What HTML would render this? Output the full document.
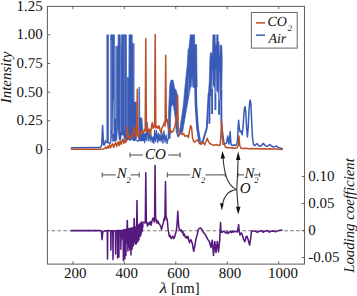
<!DOCTYPE html>
<html><head><meta charset="utf-8"><style>html,body{margin:0;padding:0;background:#fff;width:357px;height:296px;overflow:hidden}svg{display:block}text{text-rendering:geometricPrecision}</style></head>
<body><svg width="357" height="296" viewBox="0 0 357 296"><rect width="357" height="296" fill="#fff"/><line x1="47.4" y1="230.7" x2="304.5" y2="230.7" stroke="#7a7a7a" stroke-width="1.1" stroke-dasharray="3.7,2.27" stroke-dashoffset="2.0"/><g fill="none" stroke-linejoin="round" stroke-linecap="butt"><polyline points="70.80,147.80 99.50,147.60 100.80,147.00 101.70,145.00 102.25,133.00 102.60,125.50 102.95,133.00 103.50,144.50 104.50,145.00 105.50,140.50 106.20,143.00" stroke="#3a5bb5" stroke-width="1.5"/><polyline points="108.60,142.50 109.50,143.50 110.60,143.00" stroke="#3a5bb5" stroke-width="1.5"/><polyline points="136.50,140.00 137.50,141.00 138.70,141.00" stroke="#3a5bb5" stroke-width="1.5"/><polyline points="177.00,133.00 178.20,136.50 179.20,135.00 180.20,132.00" stroke="#3a5bb5" stroke-width="1.5"/><polyline points="199.20,141.50 200.50,142.50 202.00,142.00 202.80,141.50" stroke="#3a5bb5" stroke-width="1.5"/><polyline points="223.60,141.50 225.00,144.00 226.50,143.00 227.80,136.00 228.80,144.00 229.50,141.00 230.10,131.50 231.00,144.00 232.00,145.50 234.00,145.00 236.00,145.50 237.40,142.00 238.10,128.00 238.60,120.30 239.30,128.00 240.20,132.00 241.20,131.00 242.10,134.80 243.00,128.00 243.90,114.00 244.60,107.50 245.10,106.80 245.80,112.00 246.60,128.00 247.40,137.00 248.20,128.00 249.00,110.00 249.80,101.50 250.30,100.10 250.90,104.00 251.70,122.00 252.50,138.00 253.60,145.00 255.00,145.50 256.00,144.30 257.20,143.60 258.50,145.50 260.00,146.30 261.50,145.50 263.30,143.30 265.00,145.50 266.50,146.50 268.30,145.70 270.00,144.60 271.80,146.20 273.50,147.00 275.00,146.60 276.40,146.00 278.00,147.40 280.00,148.00 282.80,148.70" stroke="#3a5bb5" stroke-width="1.5"/><polyline points="143.20,141.00 143.60,131.59 144.58,142.65 145.20,133.29 146.29,140.69 147.09,122.10 148.21,140.73 148.84,132.40 150.16,140.91 150.85,134.02 152.22,142.40 152.98,136.81 153.90,143.33 154.62,130.15 155.58,141.52 156.50,130.45 157.69,142.61 158.44,133.38 159.37,140.70 160.06,134.44 161.17,141.54 162.00,132.63 163.05,143.12 163.93,130.95 165.12,142.23 166.07,134.84 167.12,143.73 168.20,138.00" stroke="#3a5bb5" stroke-width="1.25"/><polyline points="195.60,87.00 196.00,105.00 197.50,128.00 199.70,141.50" stroke="#3a5bb5" stroke-width="2.6"/><polyline points="208.70,93.00 207.80,110.00 206.80,128.00 205.00,134.00 203.30,140.00 202.40,142.00" stroke="#3a5bb5" stroke-width="1.9"/><polyline points="209.60,95.00 209.40,123.70" stroke="#3a5bb5" stroke-width="1.9"/><polyline points="212.10,86.00 212.10,114.00" stroke="#3a5bb5" stroke-width="1.9"/><polyline points="215.40,90.00 215.40,110.00" stroke="#3a5bb5" stroke-width="1.9"/><polyline points="219.10,94.00 219.10,114.80" stroke="#3a5bb5" stroke-width="1.9"/><polyline points="221.30,90.00 221.40,122.00 222.30,132.00 223.60,141.50" stroke="#3a5bb5" stroke-width="1.9"/><polygon points="106.80,143.00 106.80,34.80 108.60,34.80 108.60,143.00" fill="#3a5bb5" stroke="#3a5bb5" stroke-width="0.6"/><polygon points="110.60,143.00 110.60,34.80 114.50,34.80 114.60,118.60 115.70,118.60 115.80,46.20 118.00,46.20 118.10,34.80 120.30,34.80 120.60,50.30 121.20,50.30 121.60,34.80 126.40,34.80 126.60,77.40 128.80,77.40 129.00,34.80 132.20,34.80 132.30,43.50 134.10,43.50 134.10,102.00 136.40,102.00 136.60,139.00 135.00,141.00 133.00,140.50 131.50,139.00 130.00,141.00 128.50,139.50 127.00,140.50 125.50,139.00 124.50,140.00 123.50,135.00 121.50,134.90 120.60,140.00 119.20,140.00 117.60,125.60 116.80,140.00 115.50,141.50 114.00,141.00 112.60,141.50 111.80,132.80 111.20,141.00 110.80,143.00" fill="#3a5bb5" stroke="#3a5bb5" stroke-width="0.6"/><polygon points="138.70,141.00 138.90,87.20 139.60,87.20 139.80,117.40 141.90,118.00 142.60,127.00 143.20,141.00" fill="#3a5bb5" stroke="#3a5bb5" stroke-width="0.6"/><polygon points="179.30,132.50 180.00,128.00 183.30,105.00 185.60,80.00 187.10,66.00 188.10,50.00 189.10,47.10 190.30,34.80 194.60,34.80 194.80,44.60 196.70,44.60 196.90,65.00 197.10,80.00 197.20,87.00 193.60,87.50 192.00,86.50 190.50,87.30 187.30,105.00 183.30,128.00 182.60,132.50" fill="#3a5bb5" stroke="#3a5bb5" stroke-width="0.6"/><polygon points="208.40,94.60 209.30,80.00 209.80,61.00 210.30,52.80 211.80,52.80 212.40,56.00 212.90,34.80 215.20,34.80 215.40,45.00 216.50,45.00 216.70,34.80 218.10,34.80 218.20,41.90 219.00,41.90 219.20,55.40 219.80,55.40 220.00,45.20 221.80,45.20 222.30,60.00 222.00,80.00 221.60,99.40 220.10,99.40 219.10,95.00 217.20,90.50 215.40,92.00 213.70,85.00 212.10,88.00 210.80,96.00 209.50,97.00" fill="#3a5bb5" stroke="#3a5bb5" stroke-width="0.6"/><polygon points="168.00,138.50 168.50,112.00 169.80,84.20 171.00,80.10 173.00,80.10 173.50,82.00 174.80,89.00 176.00,89.50 177.50,95.30 177.60,118.00 177.80,133.00 176.30,133.00 175.20,118.00 173.50,106.40 172.40,104.50 171.30,106.40 170.60,118.00 170.20,138.50" fill="#3a5bb5" stroke="#3a5bb5" stroke-width="0.6"/><polygon points="188.65,74 188.95,74 189.30,95 188.30,95" fill="#ffffff" fill-opacity="0.35"/><polygon points="191.85,78 192.15,78 192.70,87.5 191.30,87.5" fill="#ffffff" fill-opacity="0.55"/><polygon points="212.15,70 212.45,70 213.00,89 211.60,89" fill="#ffffff" fill-opacity="0.5"/><polygon points="215.80,68 216.10,68 216.65,93 215.25,93" fill="#ffffff" fill-opacity="0.5"/><polygon points="219.35,72 219.65,72 220.15,100 218.85,100" fill="#ffffff" fill-opacity="0.5"/><polygon points="113.05,100 113.35,100 113.70,134 112.70,134" fill="#ffffff" fill-opacity="0.75"/><line x1="120.4" y1="50" x2="120.4" y2="132" stroke="#8ea3da" stroke-width="0.6"/><line x1="127.0" y1="77" x2="127.0" y2="133" stroke="#8ea3da" stroke-width="0.6"/><line x1="133.9" y1="44" x2="133.9" y2="100" stroke="#8ea3da" stroke-width="0.5"/><line x1="111.6" y1="40" x2="111.6" y2="130" stroke="#8ea3da" stroke-width="0.4"/><line x1="116.6" y1="47" x2="116.6" y2="128" stroke="#8ea3da" stroke-width="0.4"/><line x1="124.3" y1="36" x2="124.3" y2="130" stroke="#8ea3da" stroke-width="0.4"/><polyline points="70.80,149.30 100.00,149.20 103.00,148.90 104.50,148.60 105.50,147.20 106.50,148.40 107.50,146.30 108.50,148.00 109.60,144.60 110.60,147.80 111.60,145.50 112.60,143.80 113.60,147.40 114.60,144.50 115.70,142.80 116.70,146.40 117.50,143.50 118.20,141.80 119.20,145.50 120.20,140.80 121.30,144.40 122.00,141.50 122.80,139.00 123.80,143.20 124.80,140.30 125.80,142.70 126.80,136.20 127.50,126.50 128.20,136.00 129.30,138.30 130.60,135.30 131.60,138.50 132.60,136.00 133.50,131.00 134.40,126.40 135.20,133.00 136.00,136.20 136.80,134.00 137.30,89.30 137.90,136.00 138.80,137.50 139.00,135.10 140.00,133.20 141.00,131.00 141.60,133.60 142.70,131.80 143.50,132.90 144.30,129.50 145.20,131.00 145.80,38.50 146.40,131.00 146.80,130.60 147.60,127.70 148.50,132.50 149.40,129.20 150.50,134.70 151.60,125.40 152.30,122.50 153.10,128.40 154.00,124.70 154.60,127.00 155.20,34.50 155.80,128.00 156.20,127.70 157.00,126.20 158.00,128.40 159.00,125.80 160.00,129.90 161.00,132.90 162.00,127.70 163.00,126.20 164.30,122.50 165.10,126.00 165.70,55.30 166.30,122.00 166.60,120.20 167.30,119.50 168.00,125.40 169.00,131.00 170.00,129.20 171.00,132.90 172.00,131.00 172.60,131.80 173.60,130.30 175.20,125.20 176.40,116.10 177.20,118.00 177.60,95.50 178.20,127.00 179.20,134.50 180.70,133.50 182.50,134.60 183.60,133.50 185.00,136.30 187.00,135.50 188.30,137.50 189.50,131.20 190.50,125.60 191.50,127.10 192.60,138.30 193.60,141.30 194.60,142.30 196.10,140.80 197.60,139.80 199.10,143.30 201.20,144.30 203.20,142.30 204.70,144.80 206.20,141.00 207.30,138.30 208.20,141.00 209.30,142.80 211.30,144.30 213.80,145.40 216.40,144.50 218.50,145.50 220.20,145.00 220.90,135.00 221.60,121.00 222.20,135.00 223.00,144.50 224.20,143.60 225.50,147.20 227.00,147.80 229.00,147.50 231.00,148.10 233.00,147.70 235.00,148.30 237.00,147.90 238.30,145.00 239.00,136.00 239.70,145.50 241.00,148.20 243.00,148.60 246.00,148.30 249.00,148.70 252.00,148.40 255.00,148.80 258.00,148.50 261.00,148.90 264.00,148.70 267.00,149.00 270.00,148.80 273.00,149.10 276.00,149.00 279.00,149.30 282.80,149.40" stroke="#bb4f27" stroke-width="1.5"/><polygon points="119.60,230.60 122.00,230.40 126.00,229.60 130.00,228.40 134.00,227.40 136.60,226.60 139.00,224.50 141.00,222.80 143.00,222.40 143.30,226.00 142.00,232.00 140.00,236.50 137.50,239.50 134.00,242.00 130.00,244.00 126.00,243.00 123.00,240.50 120.80,236.00 119.60,232.00" fill="#561a7e" stroke="#561a7e" stroke-width="0.8"/><polyline points="70.80,230.60 100.40,230.60 101.40,231.20 102.10,239.60 102.80,232.00 104.50,230.80 106.00,230.90 107.28,230.64 107.50,259.00 107.72,230.64 110.68,230.67 110.90,250.00 111.12,230.68 112.78,230.70 113.00,259.50 113.22,230.70 115.38,230.66 115.60,254.00 115.82,230.65 117.38,230.63 117.60,258.00 117.82,230.62 118.68,230.61 118.90,257.00 119.12,230.59 120.68,230.49 120.90,249.20 121.12,230.46 123.18,230.16 123.40,260.60 123.62,230.08 124.58,229.88 124.80,259.00 125.02,229.80 125.68,229.66 125.90,255.30 126.12,229.57 127.00,229.35 127.30,220.50 127.60,229.20 127.68,229.18 127.90,251.00 128.12,229.07 128.58,228.95 128.80,247.00 129.02,228.84 129.58,228.70 129.80,250.00 130.02,228.60 130.78,228.46 131.00,254.90 131.22,228.38 131.98,228.24 132.20,249.00 132.42,228.16 132.98,228.06 133.20,246.00 133.42,227.98 133.90,227.89 134.20,218.50 134.50,227.78 134.78,227.73 135.00,244.00 135.22,227.65 135.98,227.51 136.20,244.00 136.42,227.43 136.70,227.30 137.00,200.50 137.30,226.70 137.58,226.42 137.80,242.00 138.02,225.98 138.68,225.32 138.90,240.00 139.12,224.88 140.38,223.62 140.60,236.00 140.82,223.18 141.20,222.94 141.50,222.10 141.78,222.77 141.80,222.76 142.00,231.00 142.22,222.63 143.50,222.20 144.50,222.50 145.30,223.00 145.80,172.70 146.30,221.00 146.90,222.50 147.60,226.00 148.50,223.00 149.50,224.20 150.20,221.70 151.00,225.20 152.00,221.00 153.00,218.10 154.00,221.00 154.60,222.00 155.10,165.40 155.60,220.00 156.20,219.10 157.00,223.20 158.00,221.10 158.80,223.50 159.60,224.20 160.40,226.00 161.00,227.20 161.50,229.30 162.00,227.70 162.60,225.00 163.20,223.20 164.20,218.10 164.90,220.00 165.50,181.60 166.00,215.60 166.60,218.00 167.30,220.20 168.00,228.50 168.70,233.00 169.40,236.50 170.10,235.50 170.80,238.00 171.40,238.50 172.10,237.00 172.90,236.20 173.60,238.50 174.40,237.70 175.10,235.00 175.90,232.40 176.60,229.00 177.20,222.00 177.80,211.30 178.40,222.00 178.90,227.80 179.60,229.50 180.50,230.90 181.20,229.80 182.00,232.40 182.80,231.50 183.50,235.40 184.30,234.00 185.00,236.50 185.80,237.70 186.60,236.50 187.30,238.50 188.00,236.40 189.50,242.70 190.30,240.50 191.00,239.80 191.80,242.00 192.50,244.40 193.70,251.30 194.90,245.60 196.00,238.70 197.20,234.70 198.30,229.50 199.50,228.30 200.30,228.00 201.00,228.40 202.50,230.60 203.30,232.50 204.00,232.90 205.50,234.80 206.20,236.50 207.00,237.80 207.80,239.50 208.50,240.20 209.50,242.00 210.30,245.10 211.00,247.50 211.60,243.00 212.30,240.20 213.50,255.50 214.80,241.50 216.00,252.40 217.30,241.50 218.50,251.80 219.70,240.20 220.10,232.00 220.50,222.60 220.90,230.00 221.20,232.30 222.20,232.20 223.00,231.40 224.00,231.20 225.00,232.20 226.00,233.20 227.00,231.60 228.30,233.50 229.20,232.00 230.20,231.30 231.20,232.60 232.20,231.40 233.20,232.20 234.20,231.20 235.20,231.80 236.20,231.40 237.20,232.00 238.00,229.00 238.60,224.60 239.20,231.00 240.00,235.00 240.80,233.50 241.50,233.00 242.50,235.50 243.40,239.00 244.80,241.70 246.00,237.00 247.00,236.20 248.20,240.00 249.60,245.00 250.60,239.00 251.40,232.00 251.80,230.70 253.00,231.00 254.50,231.20 256.00,231.40 257.40,232.40 258.80,231.40 260.50,230.80 262.00,231.00 263.20,232.30 264.60,231.20 266.50,230.80 268.00,231.00 269.30,232.20 270.80,231.30 272.50,231.00 274.00,231.20 275.80,231.70 277.50,230.90 279.00,230.40 280.50,230.20 281.80,230.10 282.50,229.60" stroke="#561a7e" stroke-width="1.55"/></g><rect x="47.4" y="6.4" width="257.1" height="257.7" fill="none" stroke="#626262" stroke-width="1.05"/><path d="M72.90 264.1V261.4M72.90 6.4V9.1M124.35 264.1V261.4M124.35 6.4V9.1M175.80 264.1V261.4M175.80 6.4V9.1M227.25 264.1V261.4M227.25 6.4V9.1M278.70 264.1V261.4M278.70 6.4V9.1M47.4 149.50H50.2M47.4 120.83H50.2M47.4 92.15H50.2M47.4 63.47H50.2M47.4 34.80H50.2M304.5 257.60H301.7M304.5 230.60H301.7M304.5 203.60H301.7M304.5 176.60H301.7" stroke="#626262" stroke-width="1" fill="none"/><g font-family="'Liberation Serif', serif" font-size="15" fill="#111"><text x="42.8" y="153.90" text-anchor="end">0</text><text x="42.8" y="125.23" text-anchor="end">0.25</text><text x="42.8" y="96.55" text-anchor="end">0.50</text><text x="42.8" y="67.88" text-anchor="end">0.75</text><text x="42.8" y="39.20" text-anchor="end">1.00</text><text x="42.8" y="10.53" text-anchor="end">1.25</text><text x="75.30" y="278.3" text-anchor="middle">200</text><text x="126.80" y="278.3" text-anchor="middle">400</text><text x="178.55" y="278.3" text-anchor="middle">600</text><text x="229.90" y="278.3" text-anchor="middle">800</text><text x="283.10" y="278.3" text-anchor="middle">1000</text><text x="308.2" y="180.60">0.10</text><text x="308.2" y="207.60">0.05</text><text x="308.2" y="234.60">0</text><text x="308.2" y="261.60">-0.05</text></g><text font-family="'Liberation Serif', serif" font-size="15" font-style="italic" fill="#111" transform="translate(10.5,77.5) rotate(-90)" text-anchor="middle">Intensity</text><text font-family="'Liberation Serif', serif" font-size="14.8" font-style="italic" fill="#111" transform="translate(353.5,215.5) rotate(-90)" text-anchor="middle">Loading coefficient</text><text font-family="'Liberation Serif', serif" font-size="15" font-style="italic" fill="#111" transform="translate(159.6,292.5) scale(1.18,1)">λ</text><text font-family="'Liberation Serif', serif" font-size="14.7" fill="#111" x="171.0" y="292.5">[nm]</text><rect x="251.4" y="12.5" width="45.8" height="35.6" fill="#fff" stroke="#666" stroke-width="1"/><line x1="255.9" y1="22.9" x2="265.1" y2="22.9" stroke="#bb4f27" stroke-width="1.5"/><line x1="255.9" y1="35.2" x2="265.1" y2="35.2" stroke="#3a5bb5" stroke-width="1.5"/><text font-family="'Liberation Serif', serif" font-size="14" font-style="italic" fill="#111" x="267.5" y="26.3">CO<tspan font-size="8.5" dx="0.9" dy="4.7">2</tspan></text><text font-family="'Liberation Serif', serif" font-size="14" font-style="italic" fill="#111" x="268.4" y="43.0">Air</text><path d="M130 152.5V157.5M130 155H142.8M168.3 155H180.1M180.1 152.5V157.5" stroke="#4a4a4a" stroke-width="1" fill="none"/><text font-family="'Liberation Serif', serif" font-size="15" font-style="italic" fill="#111" x="145.0" y="158.5">CO</text><path d="M102.2 172.4V177.4M102.2 174.9H115.5M130.6 174.9H139.2M139.2 172.4V177.4" stroke="#4a4a4a" stroke-width="1" fill="none"/><text font-family="'Liberation Serif', serif" font-size="15" font-style="italic" fill="#111" x="116.7" y="177.9">N<tspan font-size="8.5" dx="-0.3" dy="5.5">2</tspan></text><path d="M167.3 172.4V177.4M167.3 174.9H190M205.5 174.9H225.3M225.3 172.9V176.9" stroke="#4a4a4a" stroke-width="1" fill="none"/><text font-family="'Liberation Serif', serif" font-size="15" font-style="italic" fill="#111" x="191.3" y="177.9">N<tspan font-size="8.5" dx="-0.3" dy="5.5">2</tspan></text><path d="M238 172.9V176.9M238 174.9H244M254 174.9H259.7M259.7 172.8V176.9" stroke="#4a4a4a" stroke-width="1" fill="none"/><text font-family="'Liberation Serif', serif" font-size="15" font-style="italic" fill="#111" x="244.5" y="177.9">N<tspan font-size="8.5" dx="-0.3" dy="5.5">2</tspan></text><text font-family="'Liberation Serif', serif" font-size="15" font-style="italic" fill="#111" x="239.65" y="192.8">O</text><path d="M236.7 189.6C229 186 224.5 178 223.1 158" stroke="#333" stroke-width="1.1" fill="none"/><path d="M236.8 189.6C237.2 180 237.8 170 238.1 159" stroke="#333" stroke-width="1.1" fill="none"/><path d="M236.8 189.6C229 190 224 196 222.6 203.5" stroke="#333" stroke-width="1.1" fill="none"/><path d="M236.8 189.6C237.2 196 237.7 202 238.1 207" stroke="#333" stroke-width="1.1" fill="none"/><path d="M222.4 151.1L220.7 158.8L225.1 158.3Z" fill="#111"/><path d="M238.2 151.6L236.0 160L240.4 160Z" fill="#111"/><path d="M221.8 210.4L220.1 203L223.8 203.5Z" fill="#111"/><path d="M238.2 214.5L236.0 206.8L240.5 206.8Z" fill="#111"/></svg></body></html>
